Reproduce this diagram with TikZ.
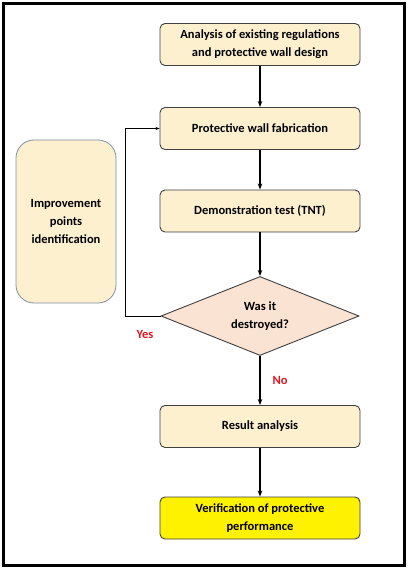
\documentclass[tikz,border=0pt]{standalone}
\usepackage{fontspec}
\setmainfont{Carlito}
\usetikzlibrary{shapes.geometric,arrows.meta}
\definecolor{boxfill}{HTML}{FDF0CF}
\definecolor{diafill}{HTML}{FBE3D4}
\definecolor{boxdraw}{HTML}{404040}
\definecolor{leftdraw}{HTML}{7F8FA6}
\definecolor{yesred}{HTML}{E8141B}
\begin{document}
\begin{tikzpicture}[x=1pt,y=-1pt,
  txt/.style={font=\bfseries\fontsize{12.5}{18}\selectfont},
  stepbox/.style={txt,draw=boxdraw,line width=0.9pt,fill=boxfill,rounded corners=5pt,
    minimum width=200pt,minimum height=42pt,align=center,inner sep=1pt},
  decision/.style={txt,diamond,draw=boxdraw,line width=0.9pt,fill=diafill,aspect=2.5,
    minimum width=198pt,minimum height=79pt,inner sep=0pt,align=center},
  flow/.style={-{Stealth[length=6pt,width=4.5pt]},line width=1.3pt},
  loopline/.style={-{Stealth[length=4pt,width=3pt]},line width=0.6pt},
  lbl/.style={txt,text=yesred}]
\useasboundingbox (0,0) rectangle (408,569);
\draw[line width=3pt] (3.5,3.5) rectangle (404.5,565.5);
\node[stepbox] (a) at (260,44.5) {Analysis of existing regulations\\and protective wall design};
\node[stepbox] (b) at (260,128.5) {Protective wall fabrication};
\node[stepbox] (c) at (260,211) {Demonstration test (TNT)};
\node[decision] (d) at (260,316) {Was it\\destroyed?};
\node[stepbox] (e) at (260,426.5) {Result analysis};
\node[stepbox,fill=yellow] (f) at (260,518) {Verification of protective\\performance};
\node[txt,draw=leftdraw,line width=0.8pt,fill=boxfill,rounded corners=18pt,minimum width=100pt,minimum height=163pt,
  align=center] (g) at (66,221.5) {Improvement\\points\\identification};
\draw[flow] (a) -- (b);
\draw[flow] (b) -- (c);
\draw[flow] (c) -- (d);
\draw[flow] (d) -- (e);
\draw[flow] (e) -- (f);
\coordinate (k) at (125,316);
\draw[loopline] (d.west) -- (k) |- (b.west);
\node[lbl] (yes) at (145,334) {Yes};
\node[lbl] (no) at (280,380) {No};
\end{tikzpicture}
\end{document}
